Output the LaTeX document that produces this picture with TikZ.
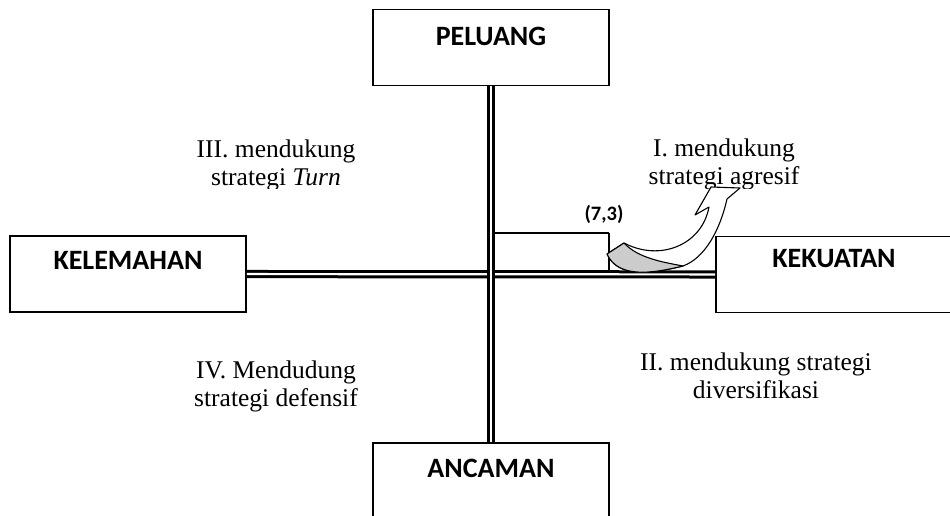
\documentclass[tikz,border=0pt]{standalone}
\usepackage{fontspec}
\setmainfont{Liberation Serif}
\newfontfamily\boxfont{Carlito}
\usetikzlibrary{positioning}
\tikzset{box/.style = {shape = rectangle, draw, line width = 1.8pt, fill = white, minimum width = 236pt, minimum height = 76pt, inner sep = 0pt}}
\tikzset{boxlabel/.style = {font = \boxfont\bfseries\fontsize{28}{32}\selectfont, anchor = base, inner sep = 0pt}}
\tikzset{quadrant/.style = {font = \fontsize{25.5}{28}\selectfont, align = center, anchor = base, inner sep = 0pt}}
\tikzset{axis/.style = {-, double, line width = 3pt, double distance = 2.2pt}}
\tikzset{pointlabel/.style = {font = \boxfont\bfseries\fontsize{20.5}{24}\selectfont, inner sep = 0pt}}
\begin{document}
\begin{tikzpicture}[x = 1pt, y = -1pt]
				\useasboundingbox (0, 0) rectangle (950, 516);

				\node[box] (peluang) at (491, 47.5) {};
				\node[box] (ancaman) at (491, 481) {};
				\node[box] (kelemahan) at (128, 274) {};
				\node[box] (kekuatan) at (834, 274.5) {};

				\node[boxlabel] (peluangtext) at ([yshift = -37pt]peluang.north) {PELUANG};
				\node[boxlabel] (ancamantext) at ([yshift = -35pt]ancaman.north) {ANCAMAN};
				\node[boxlabel] (kelemahantext) at ([yshift = -34pt]kelemahan.north) {KELEMAHAN};
				\node[boxlabel] (kekuatantext) at ([yshift = -32pt]kekuatan.north) {KEKUATAN};

				\draw[axis] (kelemahan) to (kekuatan);
				\draw[axis] (peluang) to (ancaman);

				\begin{scope}
					\clip (150, 100) rectangle (400, 188);
					\node[quadrant] (kuadran3) at (276, 185) {III. mendukung\\strategi \textit{Turn}};
				\end{scope}
				\begin{scope}
					\clip (600, 100) rectangle (850, 188);
					\node[quadrant] (kuadran1) at (724, 184) {I. mendukung\\strategi agresif};
				\end{scope}
				\begin{scope}
					\clip (150, 330) rectangle (400, 412);
					\node[quadrant] (kuadran4) at (276, 406) {IV. Mendudung\\strategi defensif};
				\end{scope}
				\node[quadrant] (kuadran2) at (756, 398) {II. mendukung strategi\\diversifikasi};

				\coordinate (s1) at (492, 233);
				\coordinate (s2) at (609, 233);
				\coordinate (s3) at (609, 270);
				\draw[line width = 1.3pt] (s1) -- (s2);
				\draw[line width = 2.4pt] (s2) -- (s3);
				\node[pointlabel] (titik) at (604, 214) {(7,3)};

				\coordinate (a1) at (607, 254);
				\coordinate (a2) at (683, 266);
				\coordinate (a3) at (727, 199);
				\coordinate (a4) at (740, 188);
				\coordinate (a5) at (711, 187);
				\coordinate (a6) at (695, 215);
				\coordinate (a7) at (709, 207);
				\coordinate (a8) at (624, 243);
				\filldraw[fill = white, line width = 1.1pt, line join = round] (a1) .. controls (618, 278) and (650, 274) .. (a2) .. controls (705, 258) and (720, 230) .. (a3) -- (a4) -- (a5) -- (a6) -- (a7) .. controls (702, 245) and (660, 262) .. (a8) -- cycle;
				\filldraw[fill = gray!40, line width = 1.1pt, line join = round] (a1) .. controls (618, 278) and (650, 274) .. (a2) .. controls (662, 262) and (638, 258) .. (a8) -- cycle;
			\end{tikzpicture}
\end{document}
